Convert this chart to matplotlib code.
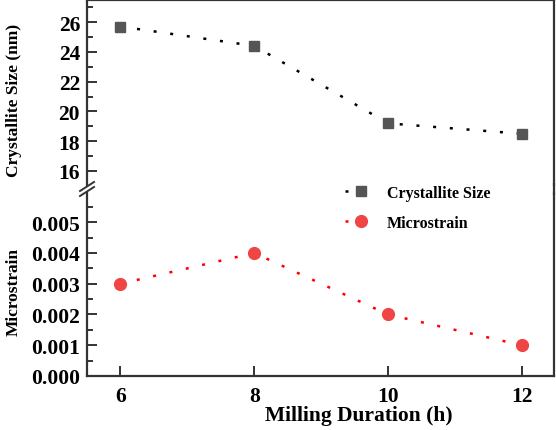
import matplotlib
matplotlib.use("Agg")
import matplotlib.pyplot as plt
from matplotlib.lines import Line2D
from matplotlib.ticker import MultipleLocator, FormatStrFormatter

# ---- data ----
duration = [6, 8, 10, 12]
crystallite_size = [25.7, 24.4, 19.2, 18.5]
microstrain = [0.003, 0.004, 0.002, 0.001]
x_ticks = [6, 8, 10, 12]
size_ticks = [16, 18, 20, 22, 24, 26]
strain_ticks = [0.000, 0.001, 0.002, 0.003, 0.004, 0.005]

plt.rcParams['font.family'] = ['Liberation Serif', 'DejaVu Serif']
plt.rcParams['font.weight'] = 'bold'

W, H = 556, 431
fig = plt.figure(figsize=(W / 100, H / 100), dpi=100)

def fx(px):
    return px / W

def fy(py):
    return 1 - py / H

left, right = 87, 554
ax_top = fig.add_axes([fx(left), fy(186), fx(right) - fx(left), fy(1) - fy(186)])
ax_bot = fig.add_axes([fx(left), fy(377), fx(right) - fx(left), fy(194) - fy(377)], sharex=ax_top)

spine_col = '#333333'
dot_style = (0, (1.2, 5.5))

ax_top.plot(duration, crystallite_size, color='black', lw=1.8, linestyle=dot_style,
            dash_capstyle='butt', marker='s', markersize=7.5, markerfacecolor='#555555',
            markeredgecolor='#555555', zorder=3)
ax_bot.plot(duration, microstrain, color='#ff0000', lw=1.8, linestyle=dot_style,
            dash_capstyle='butt', marker='o', markersize=8.5, markerfacecolor='#f04545',
            markeredgecolor='#f04545', zorder=3)

ax_top.set_xlim(5.5, 12.48)
ax_top.set_ylim(15.06, 27.48)
ax_bot.set_ylim(0.0, 0.00595)

for ax in (ax_top, ax_bot):
    for s in ax.spines.values():
        s.set_color(spine_col)
        s.set_linewidth(1.6)
    ax.tick_params(axis='both', which='both', direction='in', color=spine_col,
                   labelsize=15.5, width=1.4)
    ax.tick_params(which='major', length=7)
    ax.tick_params(which='minor', length=4)
    ax.tick_params(axis='y', right=False, pad=5)
    ax.tick_params(axis='x', top=False)

ax_top.spines['bottom'].set_visible(False)
ax_bot.spines['top'].set_visible(False)
ax_top.tick_params(axis='x', bottom=False, labelbottom=False)

ax_top.set_yticks(size_ticks)
ax_top.yaxis.set_minor_locator(MultipleLocator(1))
ax_bot.set_yticks(strain_ticks)
ax_bot.yaxis.set_major_formatter(FormatStrFormatter('%.3f'))
ax_bot.yaxis.set_minor_locator(MultipleLocator(0.0005))
ax_bot.set_xticks(x_ticks)
ax_bot.tick_params(axis='x', which='minor', bottom=False)
ax_bot.tick_params(axis='x', pad=7)

ax_top.set_ylabel('Crystallite Size (nm)', fontsize=12.5, fontweight='bold')
ax_bot.set_ylabel('Microstrain', fontsize=12.5, fontweight='bold')
ax_top.yaxis.set_label_coords(-(87 - 22) / 467, 0.465)
ax_bot.yaxis.set_label_coords(-(87 - 22) / 467, 0.465)
ax_bot.set_xlabel('Milling Duration (h)', fontsize=15.5, fontweight='bold')
ax_bot.xaxis.set_label_coords((359 - 87) / 467, -(406 - 377) / 183)

# break marks on left spine and continuous right spine
for (x0, y0, x1, y1) in [(80, 192, 94, 183), (80, 197, 94, 188)]:
    fig.add_artist(Line2D([fx(x0), fx(x1)], [fy(y0), fy(y1)], color=spine_col, lw=1.4))
fig.add_artist(Line2D([fx(right), fx(right)], [fy(185), fy(195)], color=spine_col, lw=1.6))

handles = [
    Line2D([], [], color='black', lw=1.8, linestyle=dot_style, marker='s', markersize=7.5,
           markerfacecolor='#555555', markeredgecolor='#555555'),
    Line2D([], [], color='#ff0000', lw=1.8, linestyle=dot_style, marker='o', markersize=8.5,
           markerfacecolor='#f04545', markeredgecolor='#f04545'),
]
fig.legend(handles, ['Crystallite Size', 'Microstrain'], loc='upper left',
           bbox_to_anchor=(fx(345), fy(186)), frameon=False, borderpad=0, borderaxespad=0,
           prop={'size': 11.5, 'weight': 'bold'}, handlelength=2.0, handletextpad=0.6,
           labelspacing=0.85)

fig.savefig('out.png', dpi=100)
